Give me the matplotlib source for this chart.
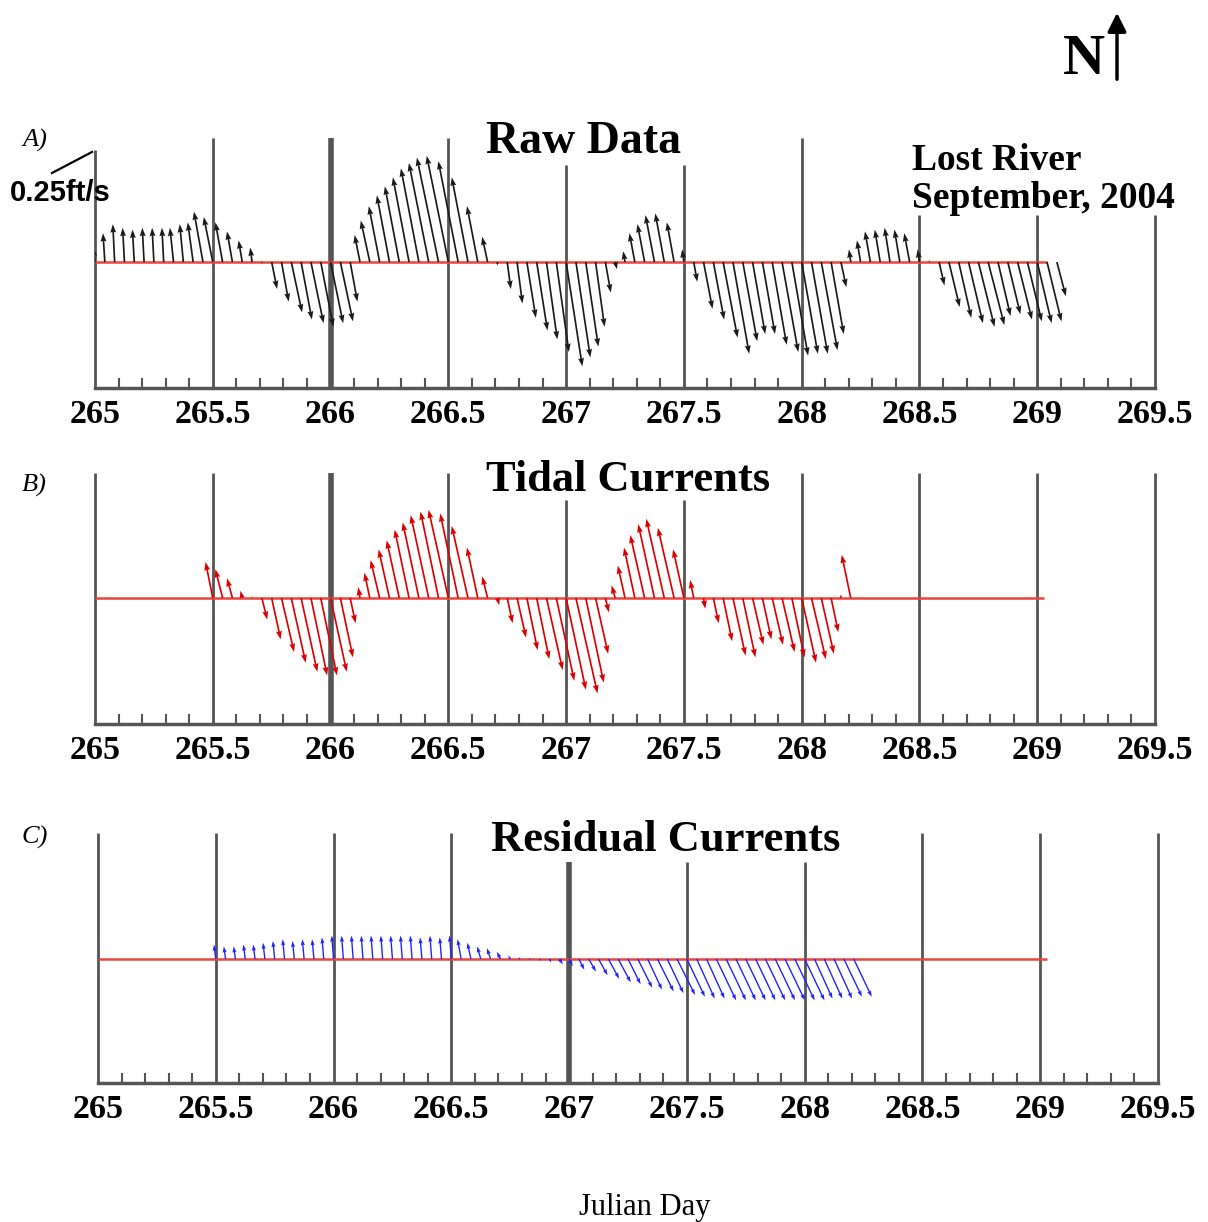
import numpy as np
import matplotlib
matplotlib.use('Agg')
import matplotlib.pyplot as plt
from matplotlib.lines import Line2D

###############################################################################
# Data: hourly current vectors (ft/s), u = east, v = north
raw_start = 265.0
raw_v = [0.08, 0.16, 0.21, 0.19, 0.18, 0.19, 0.19, 0.19, 0.19, 0.21, 0.22, 0.28, 0.25, 0.22, 0.17, 0.12, 0.08,
         -0.01, -0.15, -0.22, -0.28, -0.32, -0.34, -0.36, -0.34, -0.33, -0.22,
         0.15, 0.23, 0.31, 0.37, 0.42, 0.47, 0.52, 0.55, 0.58, 0.59, 0.56, 0.47, 0.31, 0.14,
         -0.02, -0.15, -0.23, -0.31, -0.38, -0.43, -0.50, -0.58, -0.53, -0.47, -0.36, -0.17, -0.04,
         0.06, 0.16, 0.21, 0.26, 0.27, 0.22, 0.07,
         -0.11, -0.26, -0.32, -0.42, -0.51, -0.44, -0.40, -0.40, -0.46, -0.50, -0.52, -0.51, -0.51, -0.49, -0.40, -0.14,
         0.07, 0.12, 0.17, 0.18, 0.19, 0.18, 0.16, 0.07, 0.01,
         -0.13, -0.25, -0.31, -0.34, -0.36, -0.35, -0.30, -0.29, -0.32, -0.33, -0.34, -0.33, -0.19]
raw_u = [-0.01, -0.01, -0.01, -0.01, -0.01, -0.01, -0.01, -0.01, -0.02, -0.02, -0.03, -0.05, -0.05, -0.04, -0.03, -0.02, -0.01,
         0.00, 0.03, 0.04, 0.06, 0.06, 0.07, 0.07, 0.07, 0.07, 0.04,
         -0.03, -0.05, -0.06, -0.07, -0.08, -0.09, -0.10, -0.11, -0.12, -0.12, -0.11, -0.09, -0.06, -0.03,
         0.00, 0.02, 0.03, 0.05, 0.06, 0.06, 0.07, 0.09, 0.08, 0.07, 0.05, 0.03, 0.01,
         -0.01, -0.03, -0.04, -0.05, -0.05, -0.04, -0.01,
         0.02, 0.05, 0.06, 0.08, 0.09, 0.08, 0.07, 0.07, 0.08, 0.09, 0.09, 0.09, 0.09, 0.09, 0.07, 0.03,
         -0.01, -0.02, -0.03, -0.03, -0.03, -0.03, -0.03, -0.01, 0.00,
         0.03, 0.06, 0.07, 0.08, 0.09, 0.09, 0.07, 0.07, 0.08, 0.08, 0.08, 0.08, 0.05]

tide_start = 265.5
tide_v = [0.20, 0.16, 0.11, 0.04, 0.01,
          -0.12, -0.23, -0.30, -0.36, -0.41, -0.43, -0.43, -0.41, -0.33, -0.14,
          0.06, 0.14, 0.21, 0.27, 0.32, 0.38, 0.42, 0.46, 0.48, 0.49, 0.47, 0.40, 0.28, 0.12,
          -0.04, -0.14, -0.22, -0.29, -0.34, -0.40, -0.46, -0.51, -0.53, -0.47, -0.31, -0.08,
          0.07, 0.18, 0.28, 0.35, 0.41, 0.44, 0.39, 0.27, 0.10,
          -0.06, -0.14, -0.24, -0.32, -0.33, -0.26, -0.23, -0.26, -0.30, -0.33, -0.36, -0.34, -0.31, -0.19,
          0.02, 0.24]
tide_u = [-0.04, -0.04, -0.03, -0.01, 0.00,
          0.03, 0.05, 0.07, 0.08, 0.09, 0.09, 0.09, 0.09, 0.07, 0.03,
          -0.01, -0.03, -0.05, -0.06, -0.07, -0.08, -0.09, -0.10, -0.10, -0.11, -0.10, -0.09, -0.06, -0.03,
          0.01, 0.03, 0.05, 0.06, 0.07, 0.09, 0.10, 0.11, 0.12, 0.10, 0.07, 0.02,
          -0.02, -0.04, -0.06, -0.08, -0.09, -0.10, -0.09, -0.06, -0.02,
          0.01, 0.03, 0.05, 0.07, 0.07, 0.06, 0.05, 0.06, 0.07, 0.07, 0.08, 0.08, 0.07, 0.04,
          0.00, -0.05]

resid_start = 265.5
resid_v = [0.08, 0.07, 0.07, 0.08, 0.08, 0.09, 0.10, 0.11, 0.10, 0.11, 0.11, 0.12, 0.13, 0.13, 0.13, 0.13,
           0.13, 0.13, 0.13, 0.13, 0.13, 0.12, 0.13, 0.12, 0.13,
           0.11, 0.09, 0.07, 0.06, 0.04, 0.02, 0.01, 0.00,
           -0.01, -0.02, -0.03, -0.04, -0.06, -0.07, -0.09, -0.11, -0.13, -0.14, -0.16, -0.17, -0.18, -0.19,
           -0.20, -0.21, -0.22, -0.22, -0.23, -0.23, -0.23, -0.23, -0.23, -0.23, -0.23, -0.23, -0.23, -0.23,
           -0.22, -0.22, -0.22, -0.21, -0.21]
resid_u = [-0.01, -0.01, -0.01, -0.01, -0.01, -0.01, -0.01, -0.01, -0.01, -0.01, -0.01, -0.01, -0.01, -0.01, -0.01, -0.01,
           -0.01, -0.01, -0.01, -0.01, -0.01, -0.01, -0.01, -0.01, -0.01,
           -0.02, -0.02, -0.02, -0.02, -0.02, -0.01, -0.01, 0.00,
           0.01, 0.01, 0.02, 0.02, 0.03, 0.04, 0.05, 0.06, 0.07, 0.07, 0.08, 0.08, 0.09, 0.09,
           0.10, 0.10, 0.10, 0.10, 0.11, 0.11, 0.11, 0.11, 0.11, 0.11, 0.11, 0.11, 0.11, 0.11,
           0.10, 0.10, 0.10, 0.10, 0.10]

day_ticks = [265.0, 265.5, 266.0, 266.5, 267.0, 267.5, 268.0, 268.5, 269.0, 269.5]
day_labels = ['265', '265.5', '266', '266.5', '267', '267.5', '268', '268.5', '269', '269.5']

###############################################################################
# Layout (pixels of a 1208x1222 picture)
W, H = 1208, 1222
PPU = 180.0          # pixels per ft/s
GRID = '#555555'
plt.rcParams['font.family'] = ['Liberation Serif', 'DejaVu Serif']

fig = plt.figure(figsize=(W / 100, H / 100), dpi=100)


def panel(left_px, bottom_px, top_px, base_px, line_tops, thick, red_end):
    ax = fig.add_axes([left_px / W, 1 - bottom_px / H, 1060 / W, (bottom_px - top_px) / H])
    ax.set_xlim(265, 269.5)
    ymin = -(bottom_px - base_px) / PPU
    ax.set_ylim(ymin, (base_px - top_px) / PPU)
    for x, top in zip(day_ticks, line_tops):
        ax.vlines(x, ymin, (base_px - top) / PPU, color=GRID,
                  lw=4 if x in thick else 2, zorder=1, clip_on=False)
    ax.hlines(0, 265, red_end, color='#e8473f', lw=1.8, zorder=2)
    for s in ['top', 'right', 'left']:
        ax.spines[s].set_visible(False)
    ax.spines['bottom'].set_color(GRID)
    ax.spines['bottom'].set_linewidth(2.5)
    ax.set_yticks([])
    ax.set_xticks(day_ticks)
    ax.set_xticklabels(day_labels, fontsize=24.5, fontweight='bold')
    ax.set_xticks(np.arange(265.1, 269.5, 0.1), minor=True)
    ax.tick_params(axis='x', which='major', length=0, pad=8)
    ax.tick_params(axis='x', which='minor', direction='in', length=7, width=1.5, color=GRID)
    return ax


def sticks(ax, t0, u, v, color, width, head):
    t = t0 + np.arange(len(v)) / 24.0
    ax.quiver(t, np.zeros(len(v)), u, v, angles='uv', scale_units='y', scale=1,
              color=color, width=width, headwidth=head, headlength=head + 1.5,
              headaxislength=head + 1, zorder=3)


###############################################################################
# A) raw data
axA = panel(95, 388, 100, 262, [150, 138, 138, 138, 165, 165, 138, 215, 215, 215], [266.0], 269.04)
sticks(axA, raw_start, raw_u, raw_v, '#1a1a1a', 0.0016, 3.5)

# B) tidal currents
axB = panel(95, 724, 440, 598, [473, 473, 473, 473, 500, 500, 473, 473, 473, 473], [266.0], 269.03)
sticks(axB, tide_start, tide_u, tide_v, '#dd0000', 0.0016, 3.5)

# C) residual currents
axC = panel(98, 1083, 800, 959, [833, 833, 833, 833, 862, 862, 862, 833, 833, 833], [267.0], 269.03)
sticks(axC, resid_start, resid_u, resid_v, '#2222ff', 0.0013, 3.0)

###############################################################################
# Text and decorations
def ftxt(x, y, s, **kw):
    fig.text(x / W, 1 - y / H, s, **kw)


ftxt(584, 142, 'Raw Data', fontsize=33, fontweight='bold', ha='center', va='center')
ftxt(628, 480, 'Tidal Currents', fontsize=32, fontweight='bold', ha='center', va='center')
ftxt(666, 840, 'Residual Currents', fontsize=32, fontweight='bold', ha='center', va='center')
ftxt(912, 160, 'Lost River', fontsize=27, fontweight='bold', ha='left', va='center')
ftxt(912, 198, 'September, 2004', fontsize=27, fontweight='bold', ha='left', va='center')
ftxt(22, 140, 'A)', fontsize=19, style='italic', ha='left', va='center')
ftxt(22, 485, 'B)', fontsize=19, style='italic', ha='left', va='center')
ftxt(22, 837, 'C)', fontsize=19, style='italic', ha='left', va='center')
ftxt(10, 193, '0.25ft/s', fontsize=21, fontweight='bold', family='Liberation Sans', ha='left', va='center')
ftxt(1084, 60, 'N', fontsize=42, fontweight='bold', ha='center', va='center')
ftxt(645, 1207, 'Julian Day', fontsize=22, ha='center', va='center')

fig.add_artist(Line2D([52 / W, 92 / W], [1 - 173 / H, 1 - 152 / H], transform=fig.transFigure,
                      color='k', lw=1.6))
axA.annotate('', xy=(1117 / W, 1 - 10 / H), xytext=(1117 / W, 1 - 82 / H),
             xycoords='figure fraction', textcoords='figure fraction', annotation_clip=False,
             arrowprops=dict(arrowstyle='-|>', lw=2.5, color='k', mutation_scale=28))

plt.savefig('out.png', dpi=100)
